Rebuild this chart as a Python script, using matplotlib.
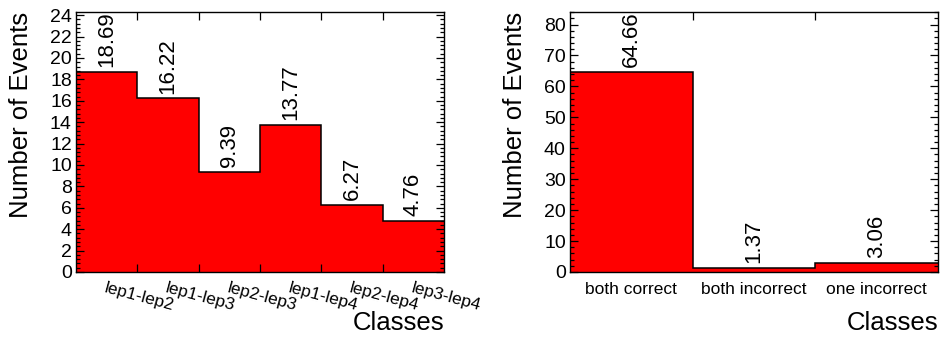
import numpy as np
import matplotlib
matplotlib.use('Agg')
import matplotlib.pyplot as plt
from matplotlib.ticker import MultipleLocator, FixedLocator, NullFormatter

plt.rcParams['font.family'] = ['Liberation Sans', 'DejaVu Sans']

# ── dados ─────────────────────────────────────────────
pares = ['lep1-lep2', 'lep1-lep3', 'lep2-lep3', 'lep1-lep4', 'lep2-lep4', 'lep3-lep4']
eventos_pares = [18.69, 16.22, 9.39, 13.77, 6.27, 4.76]

classes = ['both correct', 'both incorrect', 'one incorrect']
eventos_classes = [64.66, 1.37, 3.06]

W, H = 941, 338
fig = plt.figure(figsize=(W / 100, H / 100), dpi=100)


def painel(rect, rotulos, valores, maior, menor, rot_labels):
    ax = fig.add_axes(rect)
    n = len(valores)
    bordas = np.arange(n + 1)
    ax.stairs(valores, bordas, fill=True, facecolor='#ff0000', edgecolor='none')
    ax.stairs(valores, bordas, baseline=None, color='black', linewidth=1.1)
    ax.set_xlim(0, n)
    ax.set_ylim(0, max(valores) * 1.3)

    # valores escritos sobre cada bin
    for i, v in enumerate(valores):
        ax.annotate(f'{v:.2f}', (i + 0.5, v), xytext=(0, 3.5), textcoords='offset points',
                    rotation=90, ha='center', va='bottom', fontsize=16)

    # eixo y estilo ROOT
    ax.yaxis.set_major_locator(MultipleLocator(maior))
    ax.yaxis.set_minor_locator(MultipleLocator(menor))
    ax.tick_params(axis='y', which='both', direction='in', left=True, right=True,
                   labelsize=14, pad=3, width=0.9)
    ax.tick_params(axis='y', which='major', length=6)
    ax.tick_params(axis='y', which='minor', length=3.2)

    # eixo x: marcas nas bordas, rótulos no centro dos bins
    ax.xaxis.set_major_locator(FixedLocator(bordas[1:-1]))
    ax.xaxis.set_major_formatter(NullFormatter())
    ax.xaxis.set_minor_locator(FixedLocator(bordas[:-1] + 0.5))
    ax.set_xticklabels(rotulos, minor=True)
    if rot_labels:
        ax.tick_params(axis='x', which='major', direction='in', top=True, bottom=True,
                       length=6, width=0.9)
        ax.tick_params(axis='x', which='minor', length=0, pad=6, labelsize=12.5)
        for t in ax.get_xticklabels(minor=True):
            t.set_rotation(-15)
            t.set_ha('left')
            t.set_va('top')
            t.set_rotation_mode('anchor')
    else:
        ax.tick_params(axis='x', which='major', direction='in', top=True, bottom=False,
                       length=6, width=0.9)
        ax.tick_params(axis='x', which='minor', length=0, pad=7, labelsize=12.5)

    for s in ax.spines.values():
        s.set_linewidth(1.0)
    ax.set_axisbelow(False)

    ax.set_ylabel('Number of Events', loc='top', fontsize=18.5)
    ax.yaxis.set_label_coords(-0.118, 1.0)
    ax.set_xlabel('Classes', loc='right', fontsize=18.5)
    ax.xaxis.set_label_coords(1.0, -0.15)
    return ax


ax1 = painel([76 / W, 66 / H, 368 / W, 260 / H], pares, eventos_pares, 2, 0.4, True)
ax2 = painel([570 / W, 66 / H, 368 / W, 260 / H], classes, eventos_classes, 10, 2, False)

plt.savefig('out.png', dpi=100)
